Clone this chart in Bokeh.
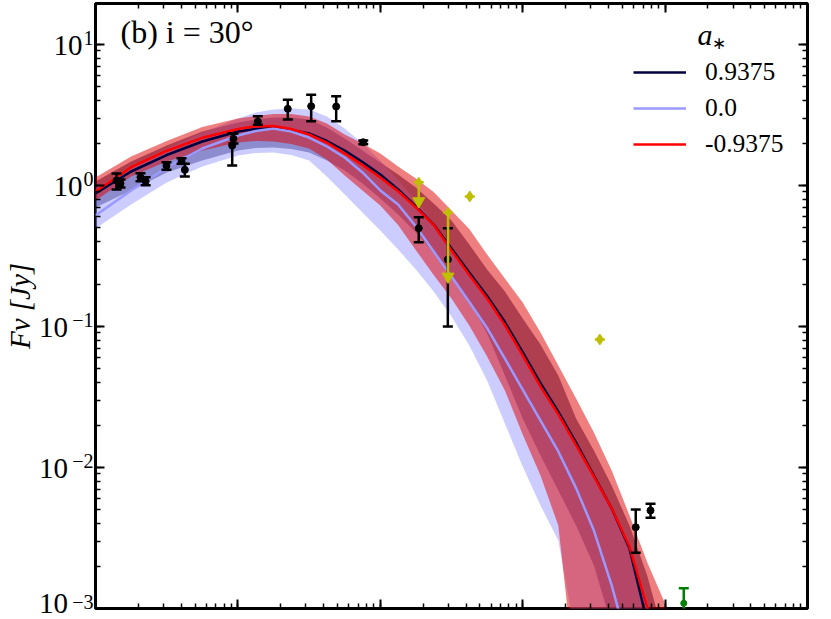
from bokeh.plotting import figure
from bokeh.models import (Range1d, LogAxis, LogTicker, FixedTicker, Label, Legend, LegendItem,
                          CustomJSTickFormatter)
from bokeh.embed import file_html
from bokeh.resources import INLINE

FONT = "Liberation Serif"

# ---------------- model curves (frequency in Hz, flux in Jy) ----------------
nu_model = [1.000e10, 1.778e10, 3.162e10, 5.623e10, 1.000e11, 1.334e11, 1.778e11, 2.371e11,
            3.162e11, 4.217e11, 5.623e11, 7.499e11,
            1.000e12, 1.334e12, 1.778e12, 2.371e12, 3.162e12, 4.217e12, 5.623e12, 7.499e12,
            1.000e13, 1.334e13, 1.778e13, 2.371e13, 3.162e13, 4.217e13, 5.623e13, 7.499e13,
            1.000e14, 1.334e14]

# a* = 0.9375
navy_line = [0.878, 1.257, 1.645, 2.051, 2.415, 2.516, 2.557, 2.475, 2.338, 2.068, 1.771, 1.468,
             1.197, 0.937, 0.710, 0.529, 0.357, 0.2415, 0.1646, 0.1076, 0.0659, 0.0397, 0.02494,
             0.01504, 0.00877, 0.00512, 0.00266, 0.000796, 0.000162, 0.00002]
navy_up = [1.067, 1.480, 1.921, 2.415, 2.798, 2.938, 3.036, 3.036, 2.938, 2.578, 2.154, 1.771,
           1.456, 1.197, 0.968, 0.745, 0.565, 0.3816, 0.2537, 0.177, 0.1139, 0.0745, 0.0449,
           0.02225, 0.0132, 0.00745, 0.00388, 0.00171, 0.000593, 0.0002]
navy_lo = [0.698, 0.922, 1.237, 1.504, 1.771, 1.845, 1.860, 1.815, 1.714, 1.504, 1.277, 1.033,
           0.809, 0.623, 0.464, 0.335, 0.230, 0.1529, 0.0892, 0.0449, 0.02225, 0.01217, 0.00687,
           0.00388, 0.00202, 0.000757]

# a* = 0.0
blue_line = [0.613, 0.922, 1.342, 1.830, 2.263, 2.435, 2.536, 2.415, 2.190, 1.891, 1.579, 1.237,
             0.922, 0.733, 0.512, 0.340, 0.2263, 0.1494, 0.0976, 0.0593, 0.0357, 0.0215, 0.01299,
             0.00714, 0.00357, 0.00146, 0.000504, 0.00008, 0.00001, 0.000001]
blue_up = [0.952, 1.364, 1.830, 2.376, 2.987, 3.294, 3.459, 3.517, 3.459, 3.085, 2.536, 1.986,
           1.504, 1.085, 0.783, 0.547, 0.3633, 0.2415, 0.166, 0.1085, 0.0665, 0.0394, 0.02494,
           0.01529, 0.00907, 0.00538, 0.00294, 0.00114, 0.000262, 0.00005]
blue_lo = [0.495, 0.733, 1.050, 1.364, 1.633, 1.700, 1.714, 1.645, 1.504, 1.158, 0.863, 0.643,
           0.480, 0.352, 0.2537, 0.177, 0.1177, 0.0733, 0.0414, 0.0205, 0.01016, 0.00538,
           0.00304, 0.0006]

# a* = -0.9375
red_line = [0.906, 1.348, 1.765, 2.179, 2.520, 2.630, 2.642, 2.516, 2.300, 2.018, 1.692, 1.398,
            1.140, 0.911, 0.700, 0.525, 0.346, 0.232, 0.158, 0.1023, 0.0624, 0.0375, 0.0238,
            0.0144, 0.00862, 0.00512, 0.00275, 0.00102, 0.000224, 0.00004]
red_up = [1.139, 1.606, 2.068, 2.600, 2.987, 3.111, 3.215, 3.215, 3.085, 2.753, 2.300, 1.986,
          1.686, 1.364, 1.121, 0.899, 0.665, 0.491, 0.324, 0.219, 0.148, 0.0907, 0.0529,
          0.0309, 0.0177, 0.00952, 0.00457, 0.00212, 0.001085, 0.0005]
red_lo = [0.783, 1.158, 1.480, 1.771, 2.018, 2.068, 2.051, 1.970, 1.830, 1.529, 1.177, 0.922,
          0.721, 0.525, 0.3477, 0.2323, 0.158, 0.1017, 0.0613, 0.0352, 0.01714, 0.00877,
          0.00388, 0.00028]

# ---------------- observations ----------------
nu_obs = [1.405e10, 1.498e10, 2.07e10, 2.25e10, 3.15e10, 4.02e10, 4.24e10, 9.12e10, 9.31e10,
          1.38e11, 2.24e11, 3.27e11, 4.90e11, 7.59e11, 1.862e12, 2.98e12, 6.22e13, 7.9e13]
F_obs = [1.085, 1.033, 1.145, 1.073, 1.386, 1.487, 1.292, 1.921, 2.143,
         2.844, 3.50, 3.65, 3.634, 2.028, 0.498, 0.2987, 0.003772, 0.004955]
F_obs_lo = [0.937, 0.968, 1.07, 1.005, 1.292, 1.425, 1.158, 1.386, 1.985,
            2.695, 2.94, 2.858, 2.858, 1.96, 0.396, 0.1, 0.002483, 0.0044]
F_obs_hi = [1.216, 1.103, 1.22, 1.145, 1.463, 1.562, 1.425, 2.338, 2.338,
            3.10, 4.054, 4.40, 4.30, 2.09, 0.596, 0.498, 0.005035, 0.00553]

# upper limits (yellow)
nu_ul = [1.862e12, 2.99e12]
F_ul = [1.055, 0.643]
F_ul_tip = [0.774, 0.226]
# other yellow points
nu_yel = [4.25e12, 3.48e13]
F_yel = [0.836, 0.0809]
# green point
nu_grn = [1.352e14]
F_grn = [0.00109]
F_grn_lo = [0.0007]
F_grn_hi = [0.00139]

# tick labels of the y axis: base and exponent
ytick_vals = [1e-3, 1e-2, 1e-1, 1e0, 1e1]
ytick_base = "10"
ytick_exps = ["\u22123", "\u22122", "\u22121", "0", "1"]

legend_labels = ["0.9375", "0.0", "-0.9375"]
NAVY, BLUE, RED, RED_BAND = "#000040", "#9999ff", "#ff0000", "#e00000"
YEL, GRN = "#bfbf00", "#008000"

# ---------------- figure ----------------
p = figure(width=830, height=618, x_axis_type="log", y_axis_type="log",
           x_range=Range1d(1e10, 1e15), y_range=Range1d(1e-3, 19.54),
           output_backend="svg", toolbar_location=None,
           min_border_left=95, min_border_right=23, min_border_top=3, min_border_bottom=10)
p.xgrid.visible = False
p.ygrid.visible = False
p.outline_line_color = "black"
p.outline_line_width = 3
p.background_fill_color = "white"
p.border_fill_color = "white"

p.add_layout(LogAxis(), "above")
p.add_layout(LogAxis(), "right")
for ax in p.axis:
    ax.ticker = LogTicker(num_minor_ticks=10)
    ax.axis_line_color = None
    ax.major_tick_in = 9
    ax.major_tick_out = 0
    ax.minor_tick_in = 5
    ax.minor_tick_out = 0
    ax.major_tick_line_width = 2
    ax.minor_tick_line_width = 1.5
    ax.major_tick_line_color = "black"
    ax.minor_tick_line_color = "black"
    ax.major_label_text_font_size = "1px"
    ax.major_label_text_alpha = 0
    ax.major_label_standoff = 0

PICK = """
    let best = 0, bd = 1e9;
    for (let i = 0; i < vals.length; i++) {
        const d = Math.abs(Math.log10(tick) - Math.log10(vals[i]));
        if (d < bd) { bd = d; best = i; }
    }
"""

# exponent column (raised a few pixels above each tick)
raise_px = 6.5
decade_px = 605 / 4.2908
exp_ticks = [v * 10 ** (raise_px / decade_px) for v in ytick_vals]
ax_exp = LogAxis(ticker=FixedTicker(ticks=exp_ticks, minor_ticks=[]),
                 formatter=CustomJSTickFormatter(args=dict(vals=ytick_vals, labs=ytick_exps),
                                                 code=PICK + "return bd < 0.1 ? labs[best] : '';"))
ax_exp.axis_line_color = None
ax_exp.major_tick_line_color = None
ax_exp.minor_tick_line_color = None
ax_exp.major_tick_out = 0
ax_exp.major_tick_in = 0
ax_exp.major_label_standoff = 2
ax_exp.major_label_text_font = FONT
ax_exp.major_label_text_font_size = "20px"
ax_exp.major_label_text_color = "black"
p.add_layout(ax_exp, "left")

# "10" column with the axis title
ax_base = LogAxis(ticker=LogTicker(num_minor_ticks=10),
                  formatter=CustomJSTickFormatter(args=dict(vals=ytick_vals, labs=ytick_exps, base=ytick_base),
                                                  code=PICK + "return labs[best].startsWith('\u2212') ? base + '\u2007' : base;"))
ax_base.axis_line_color = None
ax_base.major_tick_line_color = None
ax_base.minor_tick_line_color = None
ax_base.major_tick_out = 0
ax_base.major_tick_in = 0
ax_base.major_label_standoff = -17
ax_base.major_label_text_font = FONT
ax_base.major_label_text_font_size = "29px"
ax_base.major_label_text_color = "black"
ax_base.axis_label = "F\u03bd [Jy]"
ax_base.axis_label_text_font = FONT
ax_base.axis_label_text_font_style = "italic"
ax_base.axis_label_text_font_size = "29px"
ax_base.axis_label_text_color = "black"
ax_base.axis_label_standoff = 0
p.add_layout(ax_base, "left")


def band(up, lo, color):
    xs = nu_model[:len(up)] + nu_model[:len(lo)][::-1]
    ys = up + lo[::-1]
    p.patch(xs, ys, fill_color=color, fill_alpha=0.5, line_color=None)


band(navy_up, navy_lo, NAVY)
band(blue_up, blue_lo, BLUE)
band(red_up, red_lo, RED_BAND)

r_navy = p.line(nu_model, navy_line, line_color=NAVY, line_width=2.5)
r_blue = p.line(nu_model, blue_line, line_color=BLUE, line_width=2.5)
r_red = p.line(nu_model, red_line, line_color=RED, line_width=2.5)

# black data with error bars
p.segment(x0=nu_obs, y0=F_obs_lo, x1=nu_obs, y1=F_obs_hi, line_color="black", line_width=2.5)
p.scatter(nu_obs, F_obs_lo, marker="dash", size=10, line_color="black", line_width=2.5)
p.scatter(nu_obs, F_obs_hi, marker="dash", size=10, line_color="black", line_width=2.5)
p.scatter(nu_obs, F_obs, marker="circle", size=7, fill_color="black", line_color="black")

# yellow upper limits
p.segment(x0=nu_ul, y0=F_ul_tip, x1=nu_ul, y1=F_ul, line_color=YEL, line_width=2.5)
p.scatter(nu_ul, F_ul_tip, marker="inverted_triangle", size=12, fill_color=YEL, line_color=YEL)
p.scatter(nu_ul, F_ul, marker="dash", size=10, line_color=YEL, line_width=2.5)
p.scatter(nu_ul, F_ul, marker="diamond", size=10, fill_color=YEL, line_color=YEL)
p.scatter(nu_yel, F_yel, marker="dash", size=10, line_color=YEL, line_width=2.5)
p.scatter(nu_yel, F_yel, marker="diamond", size=11, fill_color=YEL, line_color=YEL)

# green point
p.segment(x0=nu_grn, y0=F_grn_lo, x1=nu_grn, y1=F_grn_hi, line_color=GRN, line_width=2.5)
p.scatter(nu_grn, F_grn_hi, marker="dash", size=10, line_color=GRN, line_width=2.5)
p.scatter(nu_grn, F_grn, marker="circle", size=6, fill_color=GRN, line_color=GRN)

# legend
legend = Legend(items=[LegendItem(label=legend_labels[0], renderers=[r_navy]),
                       LegendItem(label=legend_labels[1], renderers=[r_blue]),
                       LegendItem(label=legend_labels[2], renderers=[r_red])],
                location=(538, 449))
legend.border_line_color = None
legend.background_fill_alpha = 0
legend.padding = 0
legend.margin = 0
legend.spacing = 6
legend.glyph_width = 53
legend.glyph_height = 20
legend.label_height = 20
legend.label_standoff = 19
legend.label_text_font = FONT
legend.label_text_font_size = "25.5px"
legend.label_text_color = "black"
p.add_layout(legend)

p.add_layout(Label(x=602, y=574, x_units="screen", y_units="screen", text="a",
                   text_font=FONT, text_font_style="italic", text_font_size="30px",
                   text_color="black", text_baseline="alphabetic"))
p.add_layout(Label(x=616, y=565, x_units="screen", y_units="screen", text="\u2217",
                   text_font=FONT, text_font_size="17px", text_color="black",
                   text_baseline="alphabetic"))

# panel annotation
p.add_layout(Label(x=25, y=577, x_units="screen", y_units="screen", text="(b) i = 30\u00b0",
                   text_font=FONT, text_font_size="32px", text_color="black",
                   text_baseline="alphabetic"))

open("out.html", "w").write(file_html(p, INLINE))
